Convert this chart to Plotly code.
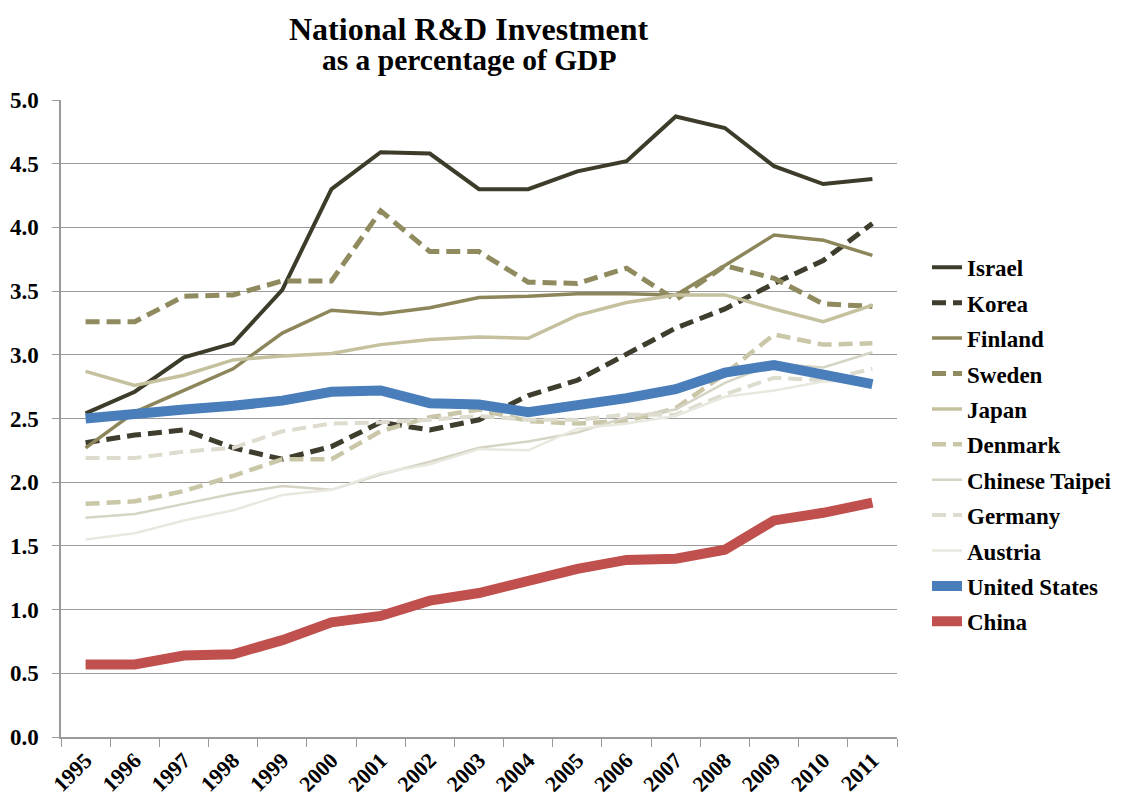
import plotly.graph_objects as go

years = [str(y) for y in range(1995, 2012)]

israel = [2.54, 2.71, 2.98, 3.09, 3.51, 4.30, 4.59, 4.58, 4.30, 4.30, 4.44, 4.52, 4.87, 4.78, 4.48, 4.34, 4.38]
korea = [2.31, 2.37, 2.41, 2.27, 2.18, 2.28, 2.47, 2.41, 2.49, 2.68, 2.80, 3.01, 3.21, 3.36, 3.56, 3.74, 4.03]
finland = [2.27, 2.55, 2.72, 2.89, 3.17, 3.35, 3.32, 3.37, 3.45, 3.46, 3.48, 3.48, 3.47, 3.70, 3.94, 3.90, 3.78]
sweden = [3.26, 3.26, 3.46, 3.47, 3.58, 3.58, 4.13, 3.81, 3.81, 3.57, 3.56, 3.68, 3.43, 3.70, 3.60, 3.40, 3.38]
japan = [2.87, 2.76, 2.84, 2.96, 2.99, 3.01, 3.08, 3.12, 3.14, 3.13, 3.31, 3.41, 3.47, 3.47, 3.36, 3.26, 3.39]
denmark = [1.83, 1.85, 1.93, 2.05, 2.18, 2.18, 2.40, 2.51, 2.57, 2.48, 2.46, 2.48, 2.58, 2.85, 3.16, 3.08, 3.09]
taipei = [1.72, 1.75, 1.83, 1.91, 1.97, 1.94, 2.06, 2.16, 2.27, 2.32, 2.39, 2.51, 2.57, 2.78, 2.93, 2.90, 3.02]
germany = [2.19, 2.19, 2.24, 2.27, 2.40, 2.46, 2.47, 2.49, 2.52, 2.49, 2.49, 2.53, 2.53, 2.69, 2.82, 2.80, 2.89]
austria = [1.55, 1.60, 1.70, 1.78, 1.90, 1.94, 2.07, 2.14, 2.26, 2.25, 2.42, 2.46, 2.52, 2.67, 2.72, 2.79, 2.80]
united_states = [2.50, 2.54, 2.57, 2.60, 2.64, 2.71, 2.72, 2.62, 2.61, 2.55, 2.60, 2.66, 2.73, 2.86, 2.92, 2.84, 2.77]
china = [0.57, 0.57, 0.64, 0.65, 0.76, 0.90, 0.95, 1.07, 1.13, 1.23, 1.32, 1.39, 1.40, 1.47, 1.70, 1.76, 1.84]

series = [
    ("Israel", israel, "#3d3b2a", 4, "solid"),
    ("Korea", korea, "#3f3d2d", 5, "14px,7px"),
    ("Finland", finland, "#8c865a", 3.5, "solid"),
    ("Sweden", sweden, "#8f8b5f", 5, "14px,7px"),
    ("Japan", japan, "#c5c09e", 3.5, "solid"),
    ("Denmark", denmark, "#cac7a9", 4.5, "14px,7px"),
    ("Chinese Taipei", taipei, "#d6d4c4", 2.5, "solid"),
    ("Germany", germany, "#dedccf", 4, "14px,7px"),
    ("Austria", austria, "#e9e8df", 2.5, "solid"),
    ("United States", united_states, "#4a7ebb", 10, "solid"),
    ("China", china, "#c0504d", 10, "solid"),
]

title_text = "National R&D Investment"
subtitle_text = "as a percentage of GDP"

FONT = "Liberation Serif, Times New Roman, serif"

fig = go.Figure()
for name, vals, color, width, dash in series:
    fig.add_trace(go.Scatter(
        x=years, y=vals, name=name, mode="lines",
        line=dict(color=color, width=width, dash=dash),
        legendgroup=name,
    ))

# page body has an 8px margin, so the figure is 8px smaller and offset
fig.update_layout(
    width=1114, height=791,
    margin=dict(l=53, r=225, t=92, b=62, autoexpand=False),
    paper_bgcolor="white", plot_bgcolor="white",
    font=dict(family=FONT, color="black", weight="bold"),
    showlegend=True,
    legend=dict(
        x=1.0359, xanchor="left", y=0.771, yanchor="top",
        font=dict(family=FONT, size=23, color="black", weight="bold"),
        tracegroupgap=2.5, bgcolor="rgba(0,0,0,0)",
    ),
    annotations=[
        dict(text=title_text, xref="paper", yref="paper", x=0.488, y=1.1429,
             xanchor="center", yanchor="top", showarrow=False,
             font=dict(family=FONT, size=32, color="black", weight="bold")),
        dict(text=subtitle_text, xref="paper", yref="paper", x=0.488, y=1.0628,
             xanchor="center", yanchor="middle", showarrow=False,
             font=dict(family=FONT, size=29.5, color="black", weight="bold")),
    ],
)

fig.update_xaxes(
    type="category", range=[-0.5, 16.5], automargin=False,
    showline=True, linecolor="#9a9a9a", linewidth=1.5,
    ticks="outside", tickson="boundaries", ticklen=8, tickcolor="#9a9a9a",
    tickangle=-45, showgrid=False,
    tickfont=dict(family=FONT, size=22, color="black", weight="bold"),
)
fig.update_yaxes(
    range=[0, 5], dtick=0.5, tickformat=".1f", automargin=False,
    showline=True, linecolor="#9a9a9a", linewidth=1.5,
    ticks="outside", ticklen=7, tickcolor="#9a9a9a",
    ticklabelstandoff=9,
    showgrid=True, gridcolor="#9a9a9a", gridwidth=1,
    zeroline=False,
    tickfont=dict(family=FONT, size=23, color="black", weight="bold"),
)

fig.write_html("out.html")
